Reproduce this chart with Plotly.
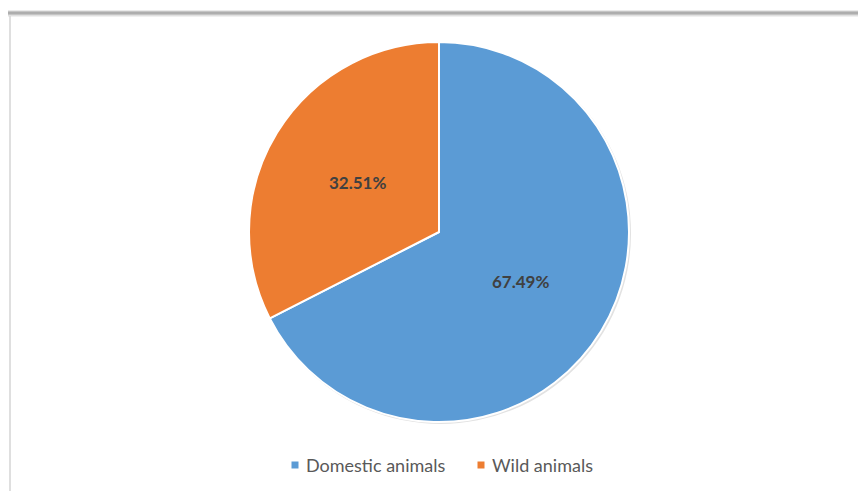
import math
import plotly.graph_objects as go

# Share of cases by animal source
categories = ["Domestic animals", "Wild animals"]
shares = [67.49, 32.51]
colors = ["#5B9BD5", "#ED7D31"]

W, H = 858, 491
cx, cy, r = 439, 232, 190  # pie centre and radius in pixels


def px(x):
    return x / W


def py(y):
    return 1 - y / H


fig = go.Figure()
fig.add_trace(go.Pie(
    labels=categories,
    values=shares,
    marker=dict(colors=colors, line=dict(color="white", width=2)),
    sort=False,
    direction="clockwise",
    rotation=0,
    textinfo="none",
    hoverinfo="label+percent",
    showlegend=False,
    domain=dict(x=[px(cx - r), px(cx + r)], y=[py(cy + r), py(cy - r)]),
))

label_font = dict(family="Lato, Open Sans, sans-serif", size=17, color="#404040")
legend_font = dict(family="Lato, Open Sans, sans-serif", size=18, color="#595959")

# percentage labels at half radius along each slice's mid angle
total = sum(shares)
start = 0.0
annotations = []
for name, v in zip(categories, shares):
    mid = (start + v / 2) / total * 2 * math.pi
    start += v
    lx = cx + 0.5 * r * math.sin(mid)
    ly = cy - 0.5 * r * math.cos(mid)
    annotations.append(dict(
        x=px(lx), y=py(ly), xref="paper", yref="paper",
        text=f"<b>{v:.2f}%</b>", showarrow=False, font=label_font,
    ))

shapes = []

# soft shadow behind the pie
shapes.append(dict(type="circle", xref="paper", yref="paper", layer="below",
                   x0=px(cx - r + 1), x1=px(cx + r + 2), y0=py(cy + r + 2), y1=py(cy - r + 1),
                   fillcolor="#e2e2e2", line=dict(width=0)))

# chart frame: shaded top edge and thin left edge
for yy, col in [(11, "#d4d4d4"), (12, "#a0a0a0"), (13, "#8a8a8a"), (14, "#989898"), (15, "#bcbcbc"), (16, "#e2e2e2")]:
    shapes.append(dict(type="line", xref="paper", yref="paper",
                       x0=px(8), x1=1, y0=py(yy), y1=py(yy),
                       line=dict(color=col, width=1)))
shapes.append(dict(type="line", xref="paper", yref="paper",
                   x0=px(10), x1=px(10), y0=py(16), y1=0,
                   line=dict(color="#d4d4d4", width=1.5)))

# legend: small colour squares followed by category names
legend_y = 465
legend_x = [295, 481]
for name, col, x0 in zip(categories, colors, legend_x):
    shapes.append(dict(type="rect", xref="paper", yref="paper",
                       x0=px(x0 - 3.5), x1=px(x0 + 3.5),
                       y0=py(legend_y + 3.5), y1=py(legend_y - 3.5),
                       fillcolor=col, line=dict(width=0)))
    annotations.append(dict(
        x=px(x0 + 9), y=py(legend_y), xref="paper", yref="paper",
        xanchor="left", yanchor="middle", text=name, showarrow=False,
        font=legend_font,
    ))

fig.update_layout(
    width=W, height=H,
    margin=dict(l=0, r=0, t=0, b=0),
    paper_bgcolor="white",
    plot_bgcolor="white",
    annotations=annotations,
    shapes=shapes,
)

fig.write_html("out.html")
